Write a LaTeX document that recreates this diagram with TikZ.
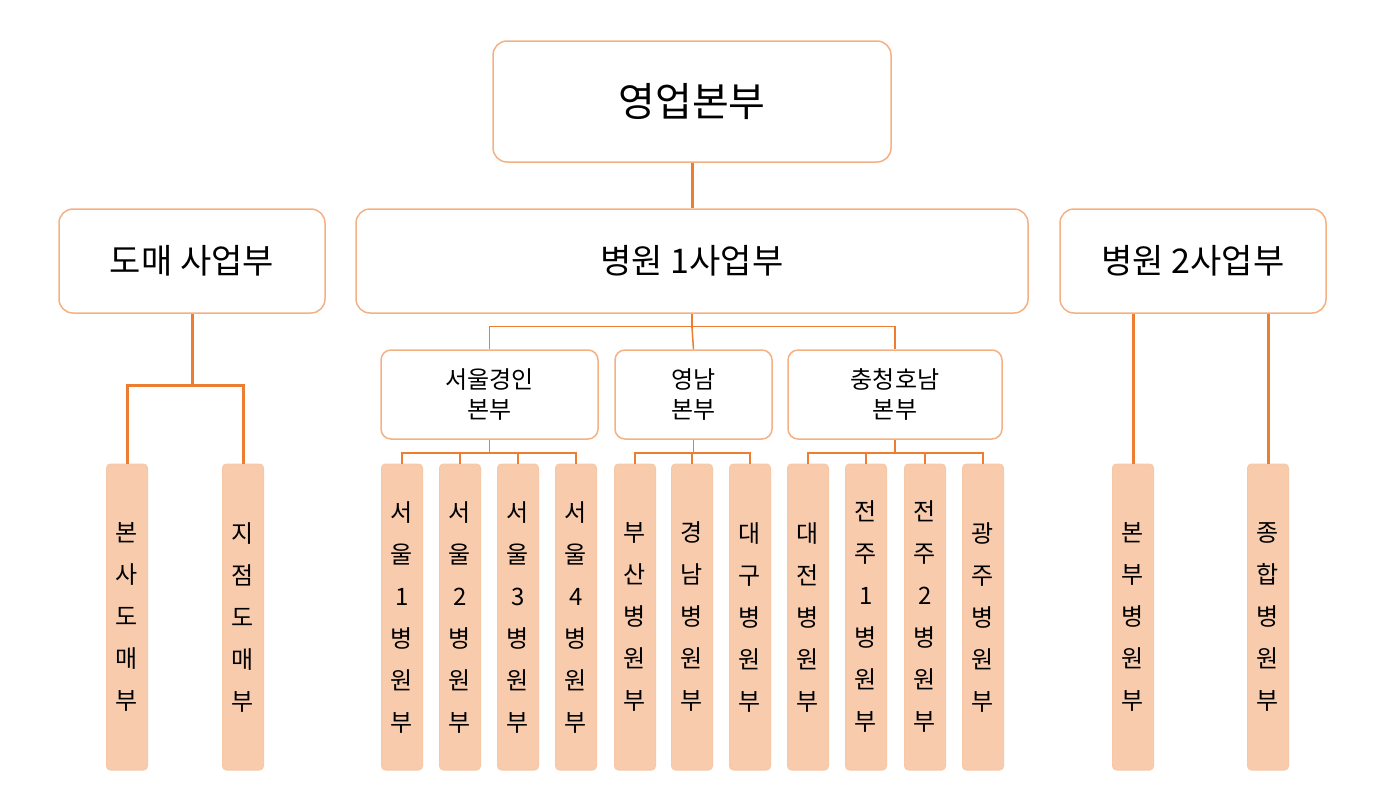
\documentclass[tikz,border=0pt]{standalone}
\usepackage{fontspec}
\setmainfont{Noto Sans CJK KR}
\definecolor{lineor}{HTML}{ED7D31}
\definecolor{edgeor}{HTML}{F4B183}
\definecolor{leaffill}{HTML}{F8CBAD}
\tikzset{
  box/.style={draw=edgeor, line width=1.5pt, fill=white, rounded corners=14pt, inner sep=0pt},
  subbox/.style={draw=edgeor, line width=1.5pt, fill=white, rounded corners=10pt, inner sep=0pt,
    minimum height=89pt, align=center, font=\fontsize{24}{30}\selectfont},
  leaf/.style={draw=edgeor!70, line width=1pt, fill=leaffill, rounded corners=4pt, inner sep=0pt,
    minimum width=41pt, minimum height=306pt, align=center, font=\fontsize{24}{42}\selectfont},
  thick link/.style={draw=lineor, line width=3pt},
  thin link/.style={draw=lineor, line width=1.5pt}
}
\begin{document}
\begin{tikzpicture}[x=1pt,y=-1pt]
\useasboundingbox (0,0) rectangle (1396,788);
% top
\node[box, minimum width=398pt, minimum height=121pt, font=\fontsize{40}{48}\selectfont] (hq) at (692,101.5) {영업본부};
\node[box, minimum width=266pt, minimum height=104pt, font=\fontsize{34}{40}\selectfont] (whole) at (192,261) {도매 사업부};
\node[box, minimum width=672pt, minimum height=104pt, font=\fontsize{34}{40}\selectfont] (hosp1) at (692,261) {병원 1사업부};
\node[box, minimum width=266pt, minimum height=104pt, font=\fontsize{34}{40}\selectfont] (hosp2) at (1193,261) {병원 2사업부};
\draw[thick link] (hq.south) -- (hosp1.north);
% regional
\node[subbox, minimum width=217pt] (seoul) at (489.5,394.5) {서울경인\\본부};
\node[subbox, minimum width=157pt] (yn) at (693.5,394.5) {영남\\본부};
\node[subbox, minimum width=214pt] (ch) at (895,394.5) {충청호남\\본부};
\draw[thin link] (hosp1.south) -- ++(0,14) coordinate (hb);
\draw[thin link] (seoul.north) -- ++(0,-23) -| (ch.north);
\draw[thin link] (hb) -- (yn.north);
% leaves
\foreach \nm/\x/\t in {sa/127/본\\사\\도\\매\\부, sb/243/지\\점\\도\\매\\부,
  s1/402/서\\울\\1\\병\\원\\부, s2/460/서\\울\\2\\병\\원\\부, s3/518/서\\울\\3\\병\\원\\부, s4/576/서\\울\\4\\병\\원\\부,
  y1/635/부\\산\\병\\원\\부, y2/692/경\\남\\병\\원\\부, y3/750/대\\구\\병\\원\\부,
  c1/808/대\\전\\병\\원\\부, c2/866/전\\주\\1\\병\\원\\부, c3/925/전\\주\\2\\병\\원\\부, c4/983/광\\주\\병\\원\\부,
  h1/1133/본\\부\\병\\원\\부, h2/1268/종\\합\\병\\원\\부}
  \node[leaf] (\nm) at (\x,617) {\t};
% links to leaves
\draw[thick link] (whole.south) -- ++(0,72) coordinate (wb);
\draw[thick link] (sa.north) |- (wb) -| (sb.north);
\draw[thin link] (seoul.south) -- ++(0,13) coordinate (sj);
\draw[thin link] (s1.north) |- (sj) -| (s4.north);
\draw[thin link] (s2.north) -- (s2.north |- sj);
\draw[thin link] (s3.north) -- (s3.north |- sj);
\draw[thin link] (yn.south) -- ++(0,13) coordinate (yj);
\draw[thin link] (y1.north) |- (yj) -| (y3.north);
\draw[thin link] (y2.north) -- (y2.north |- yj);
\draw[thin link] (ch.south) -- ++(0,13) coordinate (cj);
\draw[thin link] (c1.north) |- (cj) -| (c4.north);
\draw[thin link] (c2.north) -- (c2.north |- cj);
\draw[thin link] (c3.north) -- (c3.north |- cj);
\draw[thick link] (h1.north) -- (h1.north |- hosp2.south);
\draw[thick link] (h2.north) -- (h2.north |- hosp2.south);
\end{tikzpicture}
\end{document}
